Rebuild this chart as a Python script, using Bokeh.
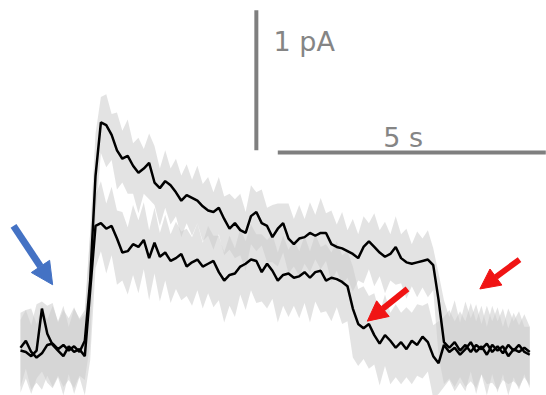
from bokeh.plotting import figure
from bokeh.models import Arrow, NormalHead, Range1d
from bokeh.core.properties import value
from bokeh.embed import file_html
from bokeh.resources import INLINE

# ---------------- data (time in s, current in pA) ----------------
time_s = [0.0, 0.1, 0.2, 0.3, 0.4, 0.5, 0.6, 0.7, 0.8, 0.9,
          1.0, 1.1, 1.2, 1.3, 1.4, 1.5, 1.6, 1.7, 1.8, 1.9,
          2.0, 2.1, 2.2, 2.3, 2.4, 2.5, 2.6, 2.7, 2.8, 2.9,
          3.0, 3.1, 3.2, 3.3, 3.4, 3.5, 3.6, 3.7, 3.8, 3.9,
          4.0, 4.1, 4.2, 4.3, 4.4, 4.5, 4.6, 4.7, 4.8, 4.9,
          5.0, 5.1, 5.2, 5.3, 5.4, 5.5, 5.6, 5.7, 5.8, 5.9,
          6.0, 6.1, 6.2, 6.3, 6.4, 6.5, 6.6, 6.7, 6.8, 6.9,
          7.0, 7.1, 7.2, 7.3, 7.4, 7.5, 7.6, 7.7, 7.8, 7.9,
          8.0, 8.1, 8.2, 8.3, 8.4, 8.5, 8.6, 8.7, 8.8, 8.9,
          9.0, 9.1, 9.2, 9.3, 9.4, 9.5]

# mean trace, long opening (upper)
trace_long = [0.02, 0.07, -0.01, -0.05, -0.02, 0.04, 0.05, 0.01, 0.04, 0.00,
              0.03, -0.01, 0.07, 0.50, 1.25, 1.63, 1.61, 1.54, 1.43, 1.37,
              1.39, 1.32, 1.27, 1.30, 1.34, 1.20, 1.16, 1.21, 1.18, 1.13,
              1.07, 1.11, 1.09, 1.07, 1.03, 1.00, 0.99, 1.02, 0.94, 0.87,
              0.91, 0.86, 0.84, 0.96, 0.99, 0.91, 0.89, 0.81, 0.87, 0.91,
              0.80, 0.76, 0.80, 0.81, 0.84, 0.82, 0.84, 0.84, 0.76, 0.74,
              0.73, 0.71, 0.69, 0.66, 0.74, 0.78, 0.74, 0.70, 0.67, 0.69,
              0.74, 0.66, 0.63, 0.62, 0.63, 0.64, 0.65, 0.61, 0.36, 0.06,
              0.02, 0.06, 0.00, 0.04, -0.01, 0.04, 0.01, 0.05, -0.01, 0.03,
              -0.02, 0.04, 0.00, 0.04, -0.01, -0.03]

# mean trace, short opening (lower)
trace_short = [0.00, -0.01, -0.04, 0.00, 0.30, 0.12, 0.04, 0.00, -0.04, 0.03,
               -0.01, 0.01, -0.04, 0.43, 0.89, 0.91, 0.87, 0.89, 0.80, 0.70,
               0.71, 0.76, 0.74, 0.79, 0.66, 0.77, 0.67, 0.70, 0.64, 0.66,
               0.69, 0.60, 0.63, 0.65, 0.60, 0.62, 0.64, 0.56, 0.50, 0.54,
               0.55, 0.60, 0.62, 0.65, 0.64, 0.56, 0.62, 0.57, 0.50, 0.54,
               0.55, 0.52, 0.53, 0.56, 0.52, 0.56, 0.57, 0.50, 0.52, 0.51,
               0.49, 0.46, 0.30, 0.19, 0.16, 0.19, 0.11, 0.05, 0.11, 0.07,
               0.02, 0.06, 0.01, 0.07, 0.04, 0.10, 0.06, -0.04, -0.09, 0.04,
               -0.01, 0.02, -0.03, 0.01, 0.06, -0.01, 0.03, -0.03, 0.04, 0.00,
               0.03, -0.04, 0.01, -0.01, 0.02, -0.01]

# raw-record spread (gray), upper / lower envelopes
raw_long_hi = [0.27, 0.29, 0.30, 0.19, 0.32, 0.22, 0.32, 0.21, 0.32, 0.17,
               0.30, 0.23, 0.29, 0.85, 1.55, 1.81, 1.83, 1.69, 1.70, 1.57,
               1.65, 1.48, 1.52, 1.44, 1.55, 1.46, 1.30, 1.43, 1.30, 1.37,
               1.25, 1.33, 1.22, 1.32, 1.19, 1.24, 1.13, 1.24, 1.10, 1.12,
               1.08, 1.12, 0.99, 1.18, 1.13, 1.15, 1.02, 1.04, 1.05, 1.05,
               1.05, 0.94, 1.04, 0.94, 1.06, 0.97, 1.09, 0.98, 1.00, 0.90,
               0.99, 0.86, 0.94, 0.83, 0.96, 0.91, 0.98, 0.86, 0.92, 0.83,
               0.96, 0.83, 0.87, 0.76, 0.85, 0.80, 0.86, 0.73, 0.55, 0.36,
               0.24, 0.36, 0.20, 0.35, 0.23, 0.33, 0.19, 0.32, 0.21, 0.31,
               0.17, 0.30, 0.21, 0.28, 0.17, 0.17]
raw_long_lo = [-0.26, -0.13, -0.28, -0.23, -0.28, -0.18, -0.26, -0.18, -0.26, -0.21,
               -0.27, -0.18, -0.21, 0.05, 0.95, 1.41, 1.31, 1.36, 1.15, 1.20,
               1.12, 1.12, 0.98, 1.12, 1.08, 1.04, 0.89, 1.02, 0.90, 0.96,
               0.81, 0.91, 0.82, 0.91, 0.78, 0.82, 0.72, 0.83, 0.68, 0.72,
               0.66, 0.68, 0.57, 0.76, 0.71, 0.75, 0.63, 0.63, 0.60, 0.70,
               0.55, 0.60, 0.53, 0.62, 0.56, 0.65, 0.58, 0.64, 0.49, 0.57,
               0.47, 0.52, 0.42, 0.50, 0.48, 0.58, 0.46, 0.53, 0.41, 0.50,
               0.47, 0.48, 0.37, 0.46, 0.38, 0.45, 0.38, 0.43, -0.04, -0.24,
               -0.20, -0.26, -0.19, -0.26, -0.22, -0.27, -0.17, -0.24, -0.23, -0.28,
               -0.21, -0.24, -0.22, -0.26, -0.19, -0.25]
raw_short_hi = [0.22, 0.29, 0.18, 0.33, 0.35, 0.32, 0.34, 0.20, 0.29, 0.23,
                0.31, 0.22, 0.26, 0.83, 1.11, 1.21, 1.05, 1.17, 1.00, 0.99,
                0.88, 1.04, 0.93, 1.06, 0.86, 1.02, 0.84, 0.97, 0.83, 0.92,
                0.85, 0.87, 0.81, 0.91, 0.77, 0.89, 0.82, 0.82, 0.70, 0.82,
                0.73, 0.87, 0.78, 0.90, 0.83, 0.83, 0.79, 0.83, 0.70, 0.82,
                0.72, 0.79, 0.71, 0.82, 0.71, 0.83, 0.74, 0.76, 0.70, 0.78,
                0.68, 0.71, 0.60, 0.44, 0.46, 0.39, 0.41, 0.27, 0.40, 0.27,
                0.33, 0.27, 0.31, 0.27, 0.33, 0.32, 0.34, 0.18, 0.21, 0.24,
                0.29, 0.21, 0.28, 0.21, 0.34, 0.21, 0.32, 0.17, 0.32, 0.21,
                0.30, 0.16, 0.27, 0.18, 0.26, 0.17]
raw_short_lo = [-0.30, -0.20, -0.31, -0.20, -0.15, -0.23, -0.27, -0.19, -0.32, -0.17,
                -0.31, -0.19, -0.32, -0.07, 0.59, 0.71, 0.55, 0.68, 0.47, 0.50,
                0.40, 0.54, 0.41, 0.58, 0.36, 0.55, 0.35, 0.50, 0.34, 0.44,
                0.36, 0.39, 0.32, 0.43, 0.30, 0.41, 0.31, 0.36, 0.20, 0.32,
                0.24, 0.40, 0.29, 0.43, 0.34, 0.35, 0.30, 0.37, 0.20, 0.32,
                0.24, 0.32, 0.23, 0.34, 0.20, 0.35, 0.27, 0.28, 0.21, 0.31,
                0.19, 0.21, -0.05, -0.11, -0.06, -0.13, -0.10, -0.25, -0.11, -0.24,
                -0.19, -0.24, -0.19, -0.24, -0.18, -0.20, -0.15, -0.34, -0.31, -0.26,
                -0.21, -0.29, -0.23, -0.29, -0.15, -0.31, -0.17, -0.32, -0.17, -0.30,
                -0.17, -0.32, -0.19, -0.28, -0.17, -0.27]

# scale bars
scale_current_pA = 1.0
scale_time_s = 5.0
scale_labels = ["1 pA", "5 s"]

# ---------------- figure ----------------
p = figure(width=546, height=395, output_backend="svg", toolbar_location=None,
           x_range=Range1d(-0.373, 9.813), y_range=Range1d(-0.321, 2.5),
           min_border=0)
p.axis.visible = False
p.grid.visible = False
p.outline_line_color = None
p.background_fill_color = "white"
p.border_fill_color = "white"

gray = "#cccccc"
p.varea(x=time_s, y1=raw_long_lo, y2=raw_long_hi, fill_color=gray, fill_alpha=0.55)
p.varea(x=time_s, y1=raw_short_lo, y2=raw_short_hi, fill_color=gray, fill_alpha=0.55)

p.line(time_s, trace_short, line_color="black", line_width=2.5)
p.line(time_s, trace_long, line_color="black", line_width=2.5)

# scale bars
bar_color = "#7f7f7f"
vx, vy0 = 4.40, 1.43
p.line([vx, vx], [vy0, vy0 + scale_current_pA], line_color=bar_color, line_width=4)
hx0, hy = 4.80, 1.414
p.line([hx0, hx0 + scale_time_s], [hy, hy], line_color=bar_color, line_width=4)

p.text(x=[4.72], y=[2.21], text=[scale_labels[0]], text_font=value("DejaVu Sans"),
       text_font_size="27px", text_color="#858585", text_baseline="alphabetic",
       text_align="left")
p.text(x=[7.14], y=[1.52], text=[scale_labels[1]], text_font=value("DejaVu Sans"),
       text_font_size="27px", text_color="#858585", text_baseline="alphabetic",
       text_align="center")

# arrows (annotations)
blue = "#4472C4"
red = "#F01414"
p.add_layout(Arrow(end=NormalHead(size=22, fill_color=blue, line_color=blue),
                   x_start=-0.13, y_start=0.89, x_end=0.60, y_end=0.47,
                   line_color=blue, line_width=7))
p.add_layout(Arrow(end=NormalHead(size=20, fill_color=red, line_color=red),
                   x_start=7.22, y_start=0.44, x_end=6.47, y_end=0.21,
                   line_color=red, line_width=6))
p.add_layout(Arrow(end=NormalHead(size=20, fill_color=red, line_color=red),
                   x_start=9.31, y_start=0.65, x_end=8.57, y_end=0.44,
                   line_color=red, line_width=6))

open("out.html", "w").write(file_html(p, INLINE))
